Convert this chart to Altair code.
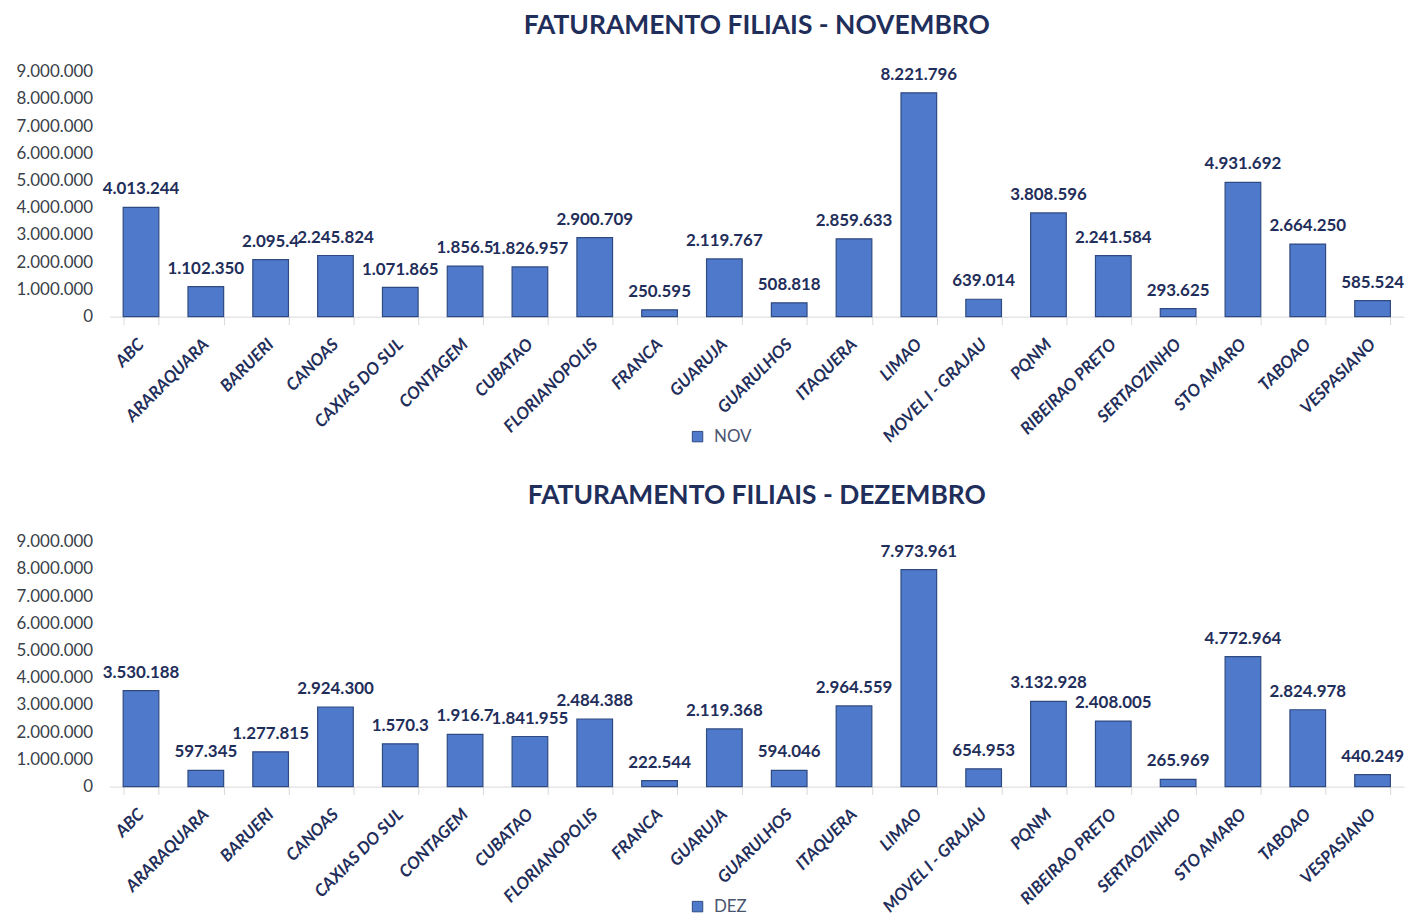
import altair as alt
import pandas as pd

filiais = ["ABC", "ARARAQUARA", "BARUERI", "CANOAS", "CAXIAS DO SUL", "CONTAGEM",
           "CUBATAO", "FLORIANOPOLIS", "FRANCA", "GUARUJA", "GUARULHOS", "ITAQUERA",
           "LIMAO", "MOVEL I - GRAJAU", "PQNM", "RIBEIRAO PRETO", "SERTAOZINHO",
           "STO AMARO", "TABOAO", "VESPASIANO"]

nov = [4013244, 1102350, 2095400, 2245824, 1071865, 1856500, 1826957, 2900709,
       250595, 2119767, 508818, 2859633, 8221796, 639014, 3808596, 2241584,
       293625, 4931692, 2664250, 585524]

dez = [3530188, 597345, 1277815, 2924300, 1570300, 1916700, 1841955, 2484388,
       222544, 2119368, 594046, 2964559, 7973961, 654953, 3132928, 2408005,
       265969, 4772964, 2824978, 440249]

rotulos_nov = ["4.013.244", "1.102.350", "2.095.4", "2.245.824", "1.071.865", "1.856.5",
               "1.826.957", "2.900.709", "250.595", "2.119.767", "508.818", "2.859.633",
               "8.221.796", "639.014", "3.808.596", "2.241.584", "293.625", "4.931.692",
               "2.664.250", "585.524"]

rotulos_dez = ["3.530.188", "597.345", "1.277.815", "2.924.300", "1.570.3", "1.916.7",
               "1.841.955", "2.484.388", "222.544", "2.119.368", "594.046", "2.964.559",
               "7.973.961", "654.953", "3.132.928", "2.408.005", "265.969", "4.772.964",
               "2.824.978", "440.249"]

y_ticks = [0, 1000000, 2000000, 3000000, 4000000, 5000000, 6000000, 7000000, 8000000, 9000000]

BAR = "#4F7ACB"
BAR_STROKE = "#2F4A80"
NAVY = "#1F2E5A"
FONT = "Lato"


def painel(valores, rotulos, serie, titulo):
    df = pd.DataFrame({"filial": filiais, "valor": valores, "rotulo": rotulos, "serie": serie})
    base = alt.Chart(df).encode(
        x=alt.X("filial:N", sort=filiais, title=None,
                scale=alt.Scale(paddingInner=0.45, paddingOuter=0.21),
                axis=alt.Axis(labelAngle=315, labelAlign="right", labelBaseline="middle",
                              labelFont=FONT, labelFontSize=17, labelFontWeight="bold",
                              labelFontStyle="italic", labelColor=NAVY, labelPadding=17,
                              tickBand="extent", tickSize=8, tickColor="#D9D9D9",
                              domainColor="#D9D9D9", grid=False, labelOverlap=False)),
        y=alt.Y("valor:Q", title=None,
                scale=alt.Scale(domain=[0, 9000000], nice=False),
                axis=alt.Axis(values=y_ticks, format=",d", grid=False, domain=False,
                              ticks=False, labelFont=FONT, labelFontSize=17,
                              labelColor="#3A3F4A", labelPadding=17, labelOverlap=False)),
    )
    barras = base.mark_bar(stroke=BAR_STROKE, strokeWidth=1.2).encode(
        color=alt.Color("serie:N", scale=alt.Scale(range=[BAR]),
                        legend=alt.Legend(title=None, orient="none", legendX=582, legendY=358,
                                          symbolType="square", symbolSize=110,
                                          symbolStrokeColor=BAR_STROKE, symbolStrokeWidth=1,
                                          labelFont=FONT, labelFontSize=17, labelOffset=8,
                                          labelColor="#4A5570")))
    textos = base.mark_text(baseline="bottom", dy=-9, font=FONT, fontSize=17,
                            fontWeight="bold", color=NAVY).encode(text="rotulo:N")
    return alt.layer(barras, textos).properties(
        width=1300, height=246,
        title=alt.TitleParams(titulo, font=FONT, fontSize=26.5, fontWeight="bold",
                              color=NAVY, anchor="middle", frame="group", offset=23))


chart = alt.vconcat(
    painel(nov, rotulos_nov, "NOV", "FATURAMENTO FILIAIS - NOVEMBRO"),
    painel(dez, rotulos_dez, "DEZ", "FATURAMENTO FILIAIS - DEZEMBRO"),
    spacing=37
).resolve_scale(color="independent").configure_view(stroke=None).properties(
    padding={"left": 7, "top": 3, "right": 0, "bottom": 0})

chart.save("out.html", embed_options={
    "renderer": "svg", "actions": False,
    "formatLocale": {"decimal": ",", "thousands": ".", "grouping": [3], "currency": ["R$", ""]}})
